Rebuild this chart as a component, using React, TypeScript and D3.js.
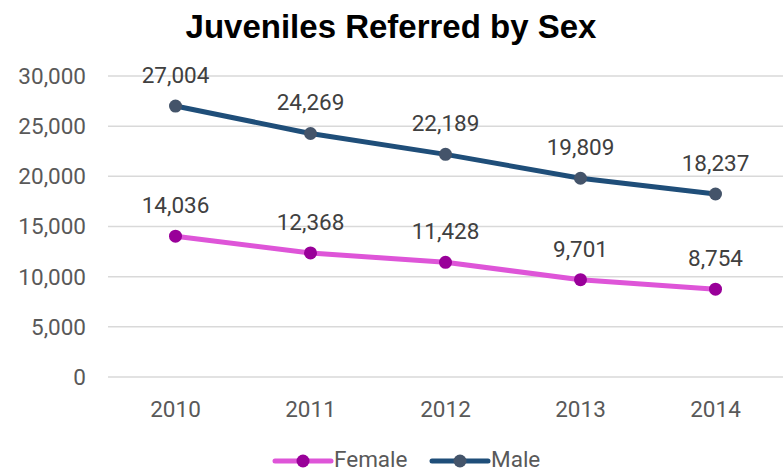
import React from "react";
import * as d3 from "d3";

const years = ["2010", "2011", "2012", "2013", "2014"];
const femaleValues = [14036, 12368, 11428, 9701, 8754];
const maleValues = [27004, 24269, 22189, 19809, 18237];
const yTicks = [0, 5000, 10000, 15000, 20000, 25000, 30000];

const W = 783;
const H = 472;

export default function App() {
  const x = d3.scaleBand<string>().domain(years).range([108, 783]);
  const y = d3.scaleLinear().domain([0, 30000]).range([377, 76]);
  const fmt = d3.format(",");
  const cx = (yr: string) => (x(yr) as number) + x.bandwidth() / 2;
  const line = d3
    .line<number>()
    .x((_, i) => cx(years[i]))
    .y((v) => y(v));

  const series = [
    { name: "Female", values: femaleValues, line: "#DE55D8", marker: "#990099" },
    { name: "Male", values: maleValues, line: "#1F4E79", marker: "#44546A" },
  ];
  const font = "Roboto, 'Noto Sans', sans-serif";
  const fs = 22.5;

  return (
    <svg width={W} height={H} style={{ position: "absolute", left: 0, top: 0 }}>
      <rect width={W} height={H} fill="#fff" />
      <text x={391} y={38} textAnchor="middle" fontFamily="'Liberation Sans', Arial, sans-serif" fontWeight="bold" fontSize={33} fill="#000">
        Juveniles Referred by Sex
      </text>
      {yTicks.map((t) => (
        <g key={t}>
          <line x1={108} x2={783} y1={y(t)} y2={y(t)} stroke="#D9D9D9" strokeWidth={1.5} />
          <text x={86} y={y(t)} dy="0.35em" textAnchor="end" fontFamily={font} fontSize={fs} fill="#595959">
            {fmt(t)}
          </text>
        </g>
      ))}
      {years.map((yr) => (
        <text key={yr} x={cx(yr)} y={409} dy="0.35em" textAnchor="middle" fontFamily={font} fontSize={fs} fill="#595959">
          {yr}
        </text>
      ))}
      {series.map((s) => (
        <g key={s.name}>
          <path d={line(s.values) || ""} fill="none" stroke={s.line} strokeWidth={5} strokeLinejoin="round" strokeLinecap="round" />
          {s.values.map((v, i) => (
            <g key={i}>
              <circle cx={cx(years[i])} cy={y(v)} r={6.5} fill={s.marker} />
              <text x={cx(years[i])} y={y(v) - 31} dy="0.35em" textAnchor="middle" fontFamily={font} fontSize={fs} fill="#404040">
                {fmt(v)}
              </text>
            </g>
          ))}
        </g>
      ))}
      {series.map((s, i) => {
        const lx = i === 0 ? 275 : 432;
        return (
          <g key={s.name}>
            <line x1={lx} x2={lx + 56} y1={461} y2={461} stroke={s.line} strokeWidth={5} strokeLinecap="round" />
            <circle cx={lx + 28} cy={461} r={6.5} fill={s.marker} />
            <text x={lx + 59} y={459} dy="0.35em" fontFamily={font} fontSize={fs} fill="#595959">
              {s.name}
            </text>
          </g>
        );
      })}
    </svg>
  );
}
